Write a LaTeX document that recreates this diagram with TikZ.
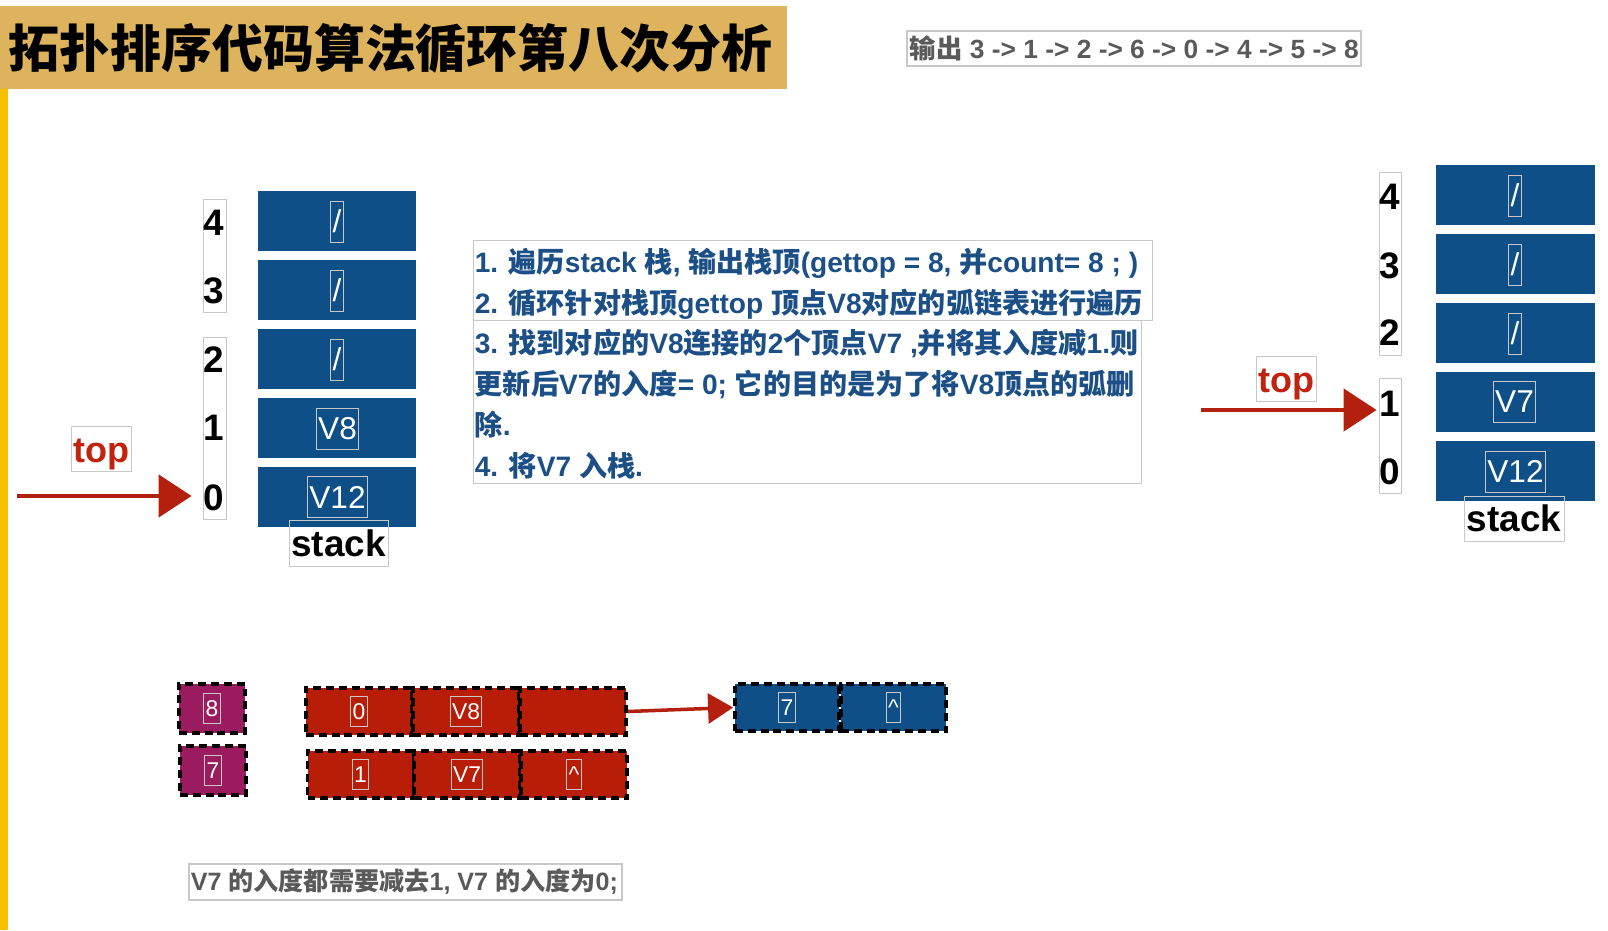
\documentclass[tikz,border=0pt]{standalone}
\usepackage{fontspec}
\setmainfont{Liberation Sans}
\newfontfamily\zhfont{Noto Sans CJK SC}
\newcommand\zh[1]{{\zhfont #1}}
\usetikzlibrary{arrows.meta}
\definecolor{stackblue}{HTML}{0E4F87}
\definecolor{gold}{HTML}{DDB35E}
\definecolor{barYellow}{HTML}{F6BF00}
\definecolor{topred}{HTML}{C1230F}
\definecolor{arrowred}{HTML}{B3200E}
\definecolor{cellred}{HTML}{B81D08}
\definecolor{cellpurple}{HTML}{9B1C5E}
\definecolor{txtblue}{HTML}{1B4F86}
\definecolor{greytxt}{HTML}{5A5A5A}
\definecolor{framegray}{HTML}{C8C8C8}
\tikzset{
  px/.style 2 args={minimum width=#1*0.02cm, minimum height=#2*0.02cm},
  cellbox/.style={fill=stackblue, inner sep=0pt},
  tframe/.style={draw=framegray, line width=0.5pt, inner sep=1pt},
  celltxt/.style={tframe, text=white, minimum height=0.82cm, font=\fontsize{18}{20}\selectfont},
  idx/.style={font=\bfseries\fontsize{21}{24}\selectfont, inner sep=0pt},
  idxframe/.style={draw=framegray, line width=0.5pt, inner sep=0pt},
  toplbl/.style={tframe, text=topred, inner xsep=0.04cm, inner ysep=0pt, text height=0.72cm, text depth=0.18cm, font=\bfseries\fontsize{20.5}{24}\selectfont},
  stacklbl/.style={tframe, font=\bfseries\fontsize{21}{24}\selectfont},
  bigarrow/.style={draw=arrowred, line width=2.8pt, -{Triangle[length=0.66cm,width=0.84cm]}},
  smallarrow/.style={draw=arrowred, line width=2pt, -{Triangle[length=0.5cm,width=0.6cm]}},
  dcell/.style={draw=black, line width=2.2pt, dash pattern=on 4.5pt off 2.8pt, inner sep=0pt, px={106}{47}},
  dtxt/.style={tframe, text=white, minimum height=0.6cm, font=\fontsize{13}{15}\selectfont},
  infobox/.style={draw=framegray, line width=0.6pt, inner sep=0pt},
  infotxt/.style={inner sep=0pt, anchor=west, align=left, text=txtblue, font=\bfseries\fontsize{16}{23.2}\selectfont},
}
\begin{document}
\begin{tikzpicture}[x=0.02cm,y=-0.02cm]
\useasboundingbox (0,0) rectangle (1608,930);
% left bar and title band
\fill[barYellow] (0,80) rectangle (8,930);
\node[fill=gold, inner sep=0pt, px={787}{83}, anchor=north west] (band) at (0,6) {};
\node[anchor=west, inner sep=0pt, font=\bfseries\fontsize{29}{32}\selectfont] (title) at (8,48) {\zh{拓扑排序代码算法循环第八次分析}};
% output box
\node[draw=framegray, line width=0.6pt, inner sep=0pt, px={454}{35}] (outbox) at (1134,48.5) {};
\node[anchor=west, inner sep=0pt, text=greytxt, font=\bfseries\fontsize{15}{17}\selectfont] (outtxt) at ([xshift=0.06cm]outbox.west) {\zh{输出} 3 -> 1 -> 2 -> 6 -> 0 -> 4 -> 5 -> 8};

% ---------- left stack ----------
\node[idxframe, px={23}{113}] (lf1) at (214.5,255.5) {};
\node[idxframe, px={23}{182}] (lf2) at (214.5,428) {};
\node[idx] (ld4) at (214,223) {4};
\node[idx] (ld3) at (214,291) {3};
\node[idx] (ld2) at (214,360) {2};
\node[idx] (ld1) at (214,428) {1};
\node[idx] (ld0) at (214,498) {0};
\node[cellbox, px={158}{60}] (lc4) at (337,221) {};
\node[cellbox, px={158}{60}] (lc3) at (337,290) {};
\node[cellbox, px={158}{60}] (lc2) at (337,359) {};
\node[cellbox, px={158}{60}] (lc1) at (337,428) {};
\node[cellbox, px={158}{60}] (lc0) at (337,497) {};
\node[celltxt] (lt4) at (337,221.5) {/};
\node[celltxt] (lt3) at (337,290.5) {/};
\node[celltxt] (lt2) at (337,359.5) {/};
\node[celltxt] (lt1) at (337.5,428.5) {V8};
\node[celltxt] (lt0) at (337.5,497) {V12};
\node[stacklbl, px={99}{46}] (lstack) at (338.5,543) {stack};
\node[toplbl, minimum width=59*0.02cm] (ltop) at (101.5,448.5) {top};
\coordinate (lstart) at (17,496);
\draw[bigarrow, shorten >=0.22cm] (lstart) -- (lstart -| lf2.west);

% ---------- info text ----------
\node[infobox, px={679}{80}, anchor=north west] (ib1) at (473,240) {};
\node[infotxt] (it1) at ([xshift=0.03cm, yshift=-0.06cm]ib1.west) {1. \zh{遍历}stack \zh{栈}, \zh{输出栈顶}(gettop = 8, \zh{并}count= 8 ; )\\
2. \zh{循环针对栈顶}gettop \zh{顶点}V8\zh{对应的弧链表进行遍历}};
\node[infobox, px={668}{163}, anchor=north west] (ib2) at (473,320) {};
\node[infotxt] (it2) at ([xshift=0.03cm, yshift=-0.04cm]ib2.west) {3. \zh{找到对应的}V8\zh{连接的}2\zh{个顶点}V7 ,\zh{并将其入度减}1.\zh{则}\\
\zh{更新后}V7\zh{的入度}= 0; \zh{它的目的是为了将}V8\zh{顶点的弧删}\\
\zh{除}.\\
4. \zh{将}V7 \zh{入栈}.};

% ---------- right stack ----------
\node[idxframe, px={22}{183}] (rf1) at (1390,263.5) {};
\node[idxframe, px={22}{115}] (rf2) at (1390,435.5) {};
\node[idx] (rd4) at (1390,197) {4};
\node[idx] (rd3) at (1390,266) {3};
\node[idx] (rd2) at (1390,333) {2};
\node[idx] (rd1) at (1390,404) {1};
\node[idx] (rd0) at (1390,472) {0};
\node[cellbox, px={159}{60}] (rc4) at (1515.5,195) {};
\node[cellbox, px={159}{60}] (rc3) at (1515.5,264) {};
\node[cellbox, px={159}{60}] (rc2) at (1515.5,333) {};
\node[cellbox, px={159}{60}] (rc1) at (1515.5,402) {};
\node[cellbox, px={159}{60}] (rc0) at (1515.5,471) {};
\node[celltxt] (rt4) at (1515,195.5) {/};
\node[celltxt] (rt3) at (1515,264.5) {/};
\node[celltxt] (rt2) at (1515,333.5) {/};
\node[celltxt] (rt1) at (1514.5,402) {V7};
\node[celltxt] (rt0) at (1515.5,471.5) {V12};
\node[stacklbl, px={100}{45}] (rstack) at (1514,518.5) {stack};
\node[toplbl, minimum width=60*0.02cm] (rtop) at (1286,378.5) {top};
\coordinate (rstart) at (1201,410);
\draw[bigarrow, shorten >=0.04cm] (rstart) -- (rstart -| rf2.west);

% ---------- bottom adjacency list ----------
\node[dcell, fill=cellpurple, px={66}{49}] (p8) at (212,708.5) {};
\node[dcell, fill=cellpurple, px={66}{49}] (p7) at (213,770.5) {};
\node[dtxt] (p8t) at (p8) {8};
\node[dtxt] (p7t) at (p7) {7};
\node[dcell, fill=cellred] (r11) at (359,711.5) {};
\node[dcell, fill=cellred] (r12) at (466,711.5) {};
\node[dcell, fill=cellred] (r13) at (573,711.5) {};
\node[dcell, fill=cellred] (r21) at (360.5,774.5) {};
\node[dcell, fill=cellred] (r22) at (467,774.5) {};
\node[dcell, fill=cellred] (r23) at (574,774.5) {};
\node[dtxt] (r11t) at (r11) {0};
\node[dtxt] (r12t) at (r12) {V8};
\node[dtxt] (r21t) at (r21) {1};
\node[dtxt] (r22t) at (r22) {V7};
\node[dtxt] (r23t) at (r23) {\textasciicircum};
\node[dcell, fill=stackblue, px={104}{47}] (b1) at (787,707.5) {};
\node[dcell, fill=stackblue, px={105}{47}] (b2) at (893.5,707.5) {};
\node[dtxt] (b1t) at (b1) {7};
\node[dtxt] (b2t) at (b2) {\textasciicircum};
\draw[smallarrow] (r13.east) -- (b1.west);

% ---------- bottom note ----------
\node[draw=framegray, line width=0.6pt, inner sep=0pt, px={433}{36}] (note) at (405.5,882) {};
\node[anchor=west, inner sep=0pt, text=greytxt, font=\bfseries\fontsize{14.3}{16}\selectfont] (notetxt) at ([xshift=0.04cm]note.west) {V7 \zh{的入度都需要减去}1, V7 \zh{的入度为}0;};
\end{tikzpicture}
\end{document}
